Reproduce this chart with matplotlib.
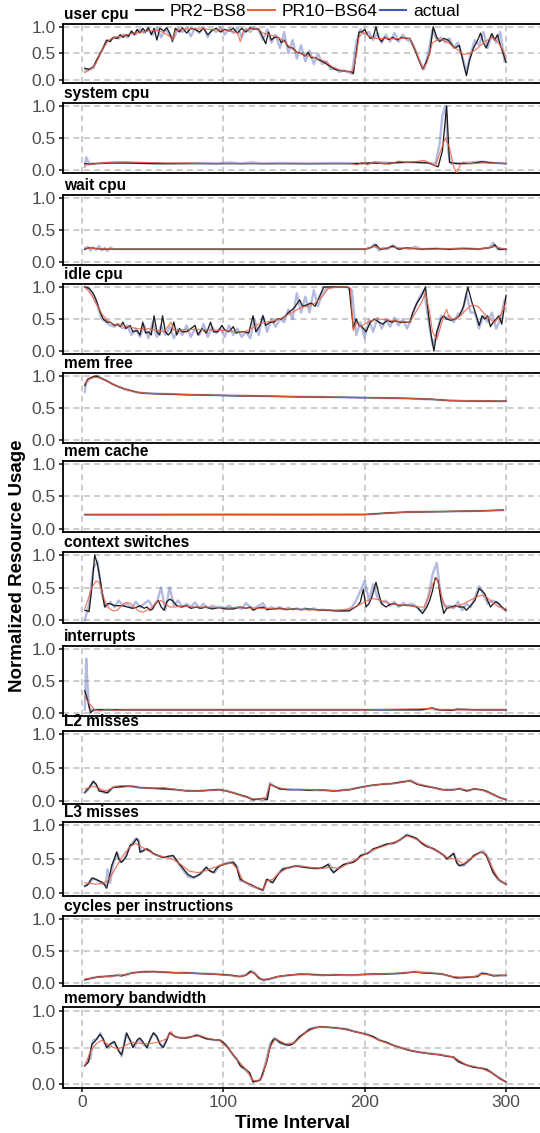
import matplotlib
matplotlib.use('Agg')
import matplotlib.pyplot as plt
from matplotlib.lines import Line2D
import numpy as np

plt.rcParams['font.family'] = ['Liberation Sans', 'DejaVu Sans']

# time index of the densely sampled "actual" series
t3 = list(range(2, 300, 3))

# ---------------- user cpu ----------------
user_cpu_actual = [.18, .2, .22, .4, .55, .72, .75, .8, .78, .85, .8, .9, .85, .95, .88, .97, .85, .98, .8, .95,
                   .85, .78, .97, .9, .99, .82, .97, .88, .99, .8, .95, .9, .99, .85, .97, .88, .99, .8, .97, .9,
                   .99, .93, .75, .95, .7, .85, .6, .9, .5, .75, .4, .65, .35, .55, .3, .5, .3, .35, .2, .22,
                   .15, .18, .15, .12, .7, .95, .85, .9, .75, .88, .7, .85, .72, .88, .72, .85, .75, .72, .55, .35,
                   .2, .5, .95, .75, .8, .7, .78, .6, .7, .45, .15, .5, .75, .65, .9, .6, .85, .7, .9, .35]
user_cpu_pr2 = [(2, .22), (5, .2), (8, .25), (10, .35), (13, .5), (15, .6), (17.5, .75), (20, .72), (22, .8), (25, .78),
                (27, .85), (29, .8), (31, .85), (33, .82), (35, .92), (37, .85), (39, .95), (41, .88), (43, .97), (45, .9),
                (47, .98), (49, .85), (51, .97), (53, .75), (55, .97), (58, .92), (60, .98), (62, .88), (64, .72), (66, .97),
                (69, .9), (71, .98), (74, .88), (77, .97), (80, .95), (83, .9), (86, .97), (89, .85), (92, .93), (95, .97),
                (98, .9), (101, .95), (104, .92), (107, .97), (110, .88), (113, .97), (116, .9), (119, .98), (122, .95),
                (125, .96), (128, .8), (130, .68), (132, .9), (134, .75), (136, .8), (139, .8), (141, .7), (143, .75),
                (146, .62), (149, .6), (152, .52), (155, .5), (158, .45), (160, .52), (162, .42), (165, .42), (168, .37),
                (170, .35), (173, .3), (176, .25), (179, .2), (182, .18), (185, .17), (188, .16), (190, .16), (192, .12),
                (194, .5), (196, .9), (198, .9), (200, .95), (202, .85), (204, .78), (206, .8), (208, 1.0), (210, .78),
                (212, .72), (214, .8), (217, .76), (220, .8), (223, .75), (226, .8), (229, .78), (232, .78), (235, .6),
                (238, .4), (241, .2), (243, .3), (246, .5), (248.5, 1.0), (251, .8), (253, .72), (256, .78), (259, .75),
                (262, .65), (264, .6), (267, .65), (270, .3), (272, .08), (274, .35), (277, .6), (280, .75), (282, .88),
                (284, .7), (286, .6), (288, .75), (290, .87), (292, .75), (294, .85), (296, .65), (298, .5), (300, .33)]
user_cpu_pr10 = [(2, .14), (6, .2), (10, .32), (14, .55), (18, .72), (22, .8), (27, .82), (32, .85), (37, .88), (42, .9),
                 (47, .92), (52, .93), (57, .9), (62, .82), (64, .75), (66, .92), (70, .95), (80, .96), (90, .95),
                 (100, .94), (105, .92), (110, .88), (112, .72), (114, .92), (120, .96), (125, .95), (128, .88),
                 (132, .85), (137, .82), (142, .75), (147, .62), (152, .52), (157, .47), (162, .44), (167, .4),
                 (172, .35), (177, .25), (182, .19), (187, .16), (191, .15), (193, .3), (196, .8), (199, .9), (203, .82),
                 (208, .78), (215, .78), (222, .77), (228, .79), (232, .78), (235, .62), (238, .42), (241, .2),
                 (244, .32), (248, .7), (252, .76), (256, .75), (260, .68), (265, .58), (270, .48), (275, .5),
                 (280, .6), (285, .72), (290, .8), (294, .72), (298, .55), (300, .45)]

# ---------------- system cpu ----------------
system_cpu_actual = [(2, .05), (3, .2), (5, .1), (8, .1), (15, .11), (25, .12), (40, .11), (60, .1), (80, .11), (95, .1),
                     (105, .12), (112, .1), (120, .12), (128, .1), (140, .11), (160, .1), (180, .11), (200, .1),
                     (210, .12), (220, .11), (230, .12), (240, .12), (250, .1), (253, .4), (255, .85), (257, 1.0),
                     (259, .3), (261, .1), (270, .11), (283, .13), (292, .11), (300, .1)]
system_cpu_pr2 = [(2, .1), (5, .09), (10, .1), (20, .11), (30, .11), (50, .1), (80, .1), (120, .1), (160, .1), (195, .1),
                  (205, .11), (215, .1), (225, .12), (235, .12), (245, .11), (252, .05), (255, .3), (258, 1.0),
                  (260, .12), (265, .1), (275, .1), (283, .13), (290, .11), (300, .1)]
system_cpu_pr10 = [(2, .08), (5, .08), (10, .1), (20, .12), (30, .125), (40, .12), (60, .11), (100, .1), (150, .1),
                   (190, .1), (195, .08), (198, .12), (202, .08), (207, .13), (212, .1), (218, .09), (224, .14),
                   (230, .12), (236, .13), (242, .15), (247, .1), (250, .06), (253, .25), (257, .5), (260, .35),
                   (263, .05), (265, -.05), (267, .05), (269, .12), (275, .1), (285, .11), (300, .1)]

# ---------------- wait cpu ----------------
wait_cpu_actual = [(2, .2), (4, .24), (6, .18), (8, .23), (10, .19), (12, .25), (14, .18), (16, .22), (18, .17), (20, .23),
                   (22, .2), (30, .2), (100, .2), (200, .2), (204, .22), (207, .28), (210, .18), (213, .22), (216, .2),
                   (220, .26), (224, .2), (228, .22), (232, .2), (236, .24), (240, .2), (250, .21), (260, .2),
                   (270, .22), (280, .2), (288, .22), (291, .3), (294, .2), (300, .2)]
wait_cpu_pr2 = [(2, .2), (5, .22), (10, .21), (15, .2), (20, .2), (100, .2), (200, .2), (205, .23), (208, .27), (211, .2),
                (215, .21), (220, .25), (224, .2), (230, .22), (240, .2), (250, .21), (260, .2), (270, .21), (280, .2),
                (290, .23), (292, .27), (295, .2), (300, .2)]
wait_cpu_pr10 = [(2, .22), (8, .21), (20, .2), (200, .2), (206, .24), (212, .21), (220, .23), (230, .21), (245, .2),
                 (260, .21), (280, .2), (292, .24), (300, .2)]

# ---------------- idle cpu ----------------
idle_cpu_actual = [1.0, .97, .85, .7, .5, .45, .4, .38, .42, .35, .4, .25, .35, .22, .4, .2, .45, .22, .4, .25,
                   .38, .2, .35, .25, .4, .22, .35, .25, .42, .22, .38, .28, .35, .22, .4, .25, .35, .22, .3, .2,
                   .5, .25, .55, .3, .5, .38, .5, .45, .65, .5, .9, .6, .85, .6, .95, .7, .9, .98, 1.0, 1.0,
                   1.0, 1.0, 1.0, .95, .25, .45, .2, .5, .3, .52, .35, .5, .38, .52, .4, .5, .35, .5, .7, .85,
                   .95, .5, .1, .25, .55, .5, .55, .45, .58, .6, .9, .6, .6, .35, .55, .45, .6, .35, .5, .8]
idle_cpu_pr2 = [(2, 1.0), (5, .98), (8, .9), (10, .8), (13, .6), (15, .5), (18, .45), (20, .45), (23, .4), (25, .42),
                (27, .38), (29, .45), (31, .35), (34, .4), (36, .3), (39, .32), (41, .25), (43, .45), (45, .28), (47, .3),
                (49, .25), (51, .55), (53, .3), (55, .25), (57, .55), (59, .3), (61, .25), (63, .3), (65, .45), (67, .25),
                (69, .35), (71, .3), (74, .3), (77, .35), (80, .4), (82, .25), (85, .35), (88, .28), (91, .45), (93, .3),
                (96, .3), (99, .4), (101, .33), (104, .3), (107, .38), (109, .28), (112, .3), (115, .3), (118, .28),
                (121, .55), (123, .3), (126, .4), (128, .55), (130, .4), (133, .45), (136, .45), (138, .5), (141, .5),
                (144, .55), (146, .6), (149, .65), (151, .7), (154, .8), (156, .7), (159, .72), (162, .75), (165, .7),
                (168, .85), (171, 1.0), (175, 1.0), (180, 1.0), (185, 1.0), (189, .99), (192, .35), (194, .5),
                (196, .4), (198, .38), (201, .3), (204, .45), (207, .5), (210, .45), (213, .42), (216, .48), (219, .45),
                (222, .47), (225, .45), (228, .45), (232, .45), (234, .6), (237, .75), (240, .85), (243, 1.0), (245, .6),
                (247, .25), (249, .0), (251, .3), (254, .5), (256, .55), (258, .5), (261, .48), (264, .5), (267, .55),
                (270, .7), (273, 1.0), (276, .75), (279, .55), (281, .4), (283, .55), (285, .5), (287, .55), (289, .38),
                (291, .45), (293, .5), (295, .55), (297, .42), (300, .87)]
idle_cpu_pr10 = [(2, 1.0), (6, .9), (10, .75), (14, .58), (18, .48), (22, .42), (27, .4), (32, .38), (37, .36), (42, .34),
                 (47, .35), (52, .33), (58, .3), (63, .45), (65, .32), (70, .33), (80, .34), (90, .33), (100, .32),
                 (110, .3), (115, .3), (120, .35), (125, .42), (130, .45), (135, .47), (140, .5), (145, .56), (150, .62),
                 (155, .68), (160, .7), (165, .75), (170, .85), (174, .97), (180, 1.0), (188, 1.0), (190, .98),
                 (192, .32), (194, .45), (197, .38), (200, .42), (204, .47), (210, .5), (218, .48), (226, .46),
                 (232, .45), (236, .6), (240, .75), (243, .9), (246, .6), (248, .3), (251, .18), (254, .4), (256, .55),
                 (258, .65), (260, .5), (264, .5), (268, .55), (272, .65), (276, .72), (280, .7), (284, .6), (288, .5),
                 (292, .45), (296, .55), (300, .75)]

# ---------------- mem free ----------------
mem_free_actual = [(2, .75), (3, .9), (5, .95), (8, .99), (11, 1.0), (14, .96), (18, .92), (22, .87), (27, .82), (32, .78),
                   (38, .75), (45, .73), (60, .72), (80, .705), (100, .7), (130, .685), (160, .675), (200, .66),
                   (230, .65), (250, .63), (258, .62), (270, .61), (300, .605)]
mem_free_pr2 = [(2, .85), (4, .95), (7, .98), (10, 1.0), (13, .97), (17, .93), (21, .88), (25, .84), (30, .8), (35, .77),
                (40, .74), (45, .73), (55, .72), (70, .71), (90, .7), (110, .69), (130, .685), (150, .675), (170, .67),
                (190, .665), (210, .66), (230, .65), (245, .64), (255, .625), (260, .615), (280, .61), (300, .605)]
mem_free_pr10 = [(2, .88), (5, .95), (9, .98), (13, .97), (18, .92), (23, .86), (30, .8), (38, .75), (45, .73), (60, .72),
                 (90, .7), (130, .685), (170, .67), (210, .66), (245, .64), (258, .62), (300, .605)]

# ---------------- mem cache ----------------
mem_cache_actual = [(2, .22), (40, .22), (80, .221), (120, .222), (160, .222), (200, .222), (210, .235), (220, .25),
                    (232, .262), (250, .267), (270, .273), (290, .283), (298, .29)]
mem_cache_pr2 = [(2, .222), (50, .222), (100, .223), (150, .222), (200, .223), (205, .23), (215, .245), (230, .26),
                 (245, .265), (260, .27), (280, .278), (298, .29)]
mem_cache_pr10 = [(2, .22), (60, .221), (120, .222), (200, .222), (208, .232), (222, .252), (236, .263), (255, .268),
                  (275, .276), (298, .29)]

# ---------------- context switches ----------------
ctx_actual = [.0, .25, .8, .9, .4, .2, .28, .2, .3, .22, .25, .18, .28, .2, .25, .3, .2, .28, .5, .15,
              .5, .22, .3, .2, .25, .2, .27, .18, .25, .18, .22, .2, .2, .18, .22, .18, .2, .17, .26, .2,
              .18, .22, .26, .16, .2, .17, .2, .16, .19, .16, .18, .16, .18, .15, .18, .15, .16, .15, .15, .14,
              .15, .14, .16, .2, .3, .45, .6, .3, .55, .35, .25, .3, .22, .28, .2, .26, .22, .25, .22, .15,
              .15, .35, .7, .88, .35, .2, .22, .18, .28, .15, .25, .2, .35, .52, .4, .25, .3, .28, .22, .15]
ctx_pr2 = [(2, .15), (5, .13), (7, .5), (9, 1.0), (11, .85), (13, .6), (16, .2), (18, .25), (20, .25), (23, .22),
           (26, .22), (29, .22), (32, .2), (36, .18), (39, .2), (41, .22), (44, .18), (46, .2), (48, .15), (50, .17),
           (52, .25), (54, .3), (56, .2), (58, .15), (60, .28), (62, .32), (64, .3), (67, .22), (70, .2), (74, .22),
           (77, .18), (81, .2), (84, .18), (88, .2), (92, .17), (97, .19), (102, .17), (107, .17), (112, .2),
           (116, .18), (119, .2), (121, .15), (124, .18), (128, .2), (131, .16), (135, .17), (140, .18), (145, .16),
           (150, .17), (155, .16), (160, .17), (165, .16), (170, .15), (175, .15), (180, .14), (185, .14), (189, .14),
           (192, .18), (195, .22), (197, .28), (199, .47), (201, .2), (203, .25), (205, .35), (208, .58), (210, .4),
           (212, .25), (215, .2), (218, .24), (221, .25), (225, .22), (229, .23), (233, .22), (237, .2), (239, .15),
           (241, .1), (244, .2), (246, .3), (248, .45), (250, .65), (252, .6), (254, .3), (256, .1), (258, .18),
           (261, .2), (264, .22), (267, .2), (270, .2), (272, .15), (275, .22), (278, .3), (281, .48), (283, .45),
           (285, .4), (287, .3), (289, .2), (291, .25), (293, .28), (295, .25), (297, .2), (300, .15)]
ctx_pr10 = [(2, .18), (4, .3), (7, .5), (10, .6), (12, .58), (14, .45), (16, .3), (19, .18), (22, .14), (25, .15),
            (28, .22), (31, .27), (34, .26), (37, .2), (40, .14), (43, .12), (46, .15), (50, .2), (53, .28), (56, .3),
            (59, .25), (62, .2), (66, .2), (72, .22), (78, .2), (85, .2), (95, .19), (110, .19), (125, .18),
            (140, .17), (160, .16), (180, .15), (190, .17), (196, .23), (202, .3), (206, .33), (212, .3), (218, .25),
            (225, .23), (232, .22), (238, .2), (242, .2), (245, .35), (248, .55), (251, .65), (253, .5), (256, .25),
            (259, .18), (264, .2), (270, .25), (276, .32), (282, .38), (286, .36), (290, .28), (295, .2), (300, .17)]

# ---------------- interrupts ----------------
intr_actual = [(2, .05), (3, .85), (4, .4), (5, .1), (7, .03), (10, .05), (20, .05), (50, .05), (100, .05), (150, .05),
               (200, .05), (240, .05), (247, .07), (250, .05), (300, .05)]
intr_pr2 = [(2, .35), (4, .2), (6, .0), (8, .05), (15, .05), (60, .05), (120, .05), (180, .05), (220, .05), (240, .05),
            (248, .08), (252, .05), (262, .04), (265, .06), (280, .05), (300, .05)]
intr_pr10 = [(2, .25), (5, .15), (9, .05), (13, .03), (18, .06), (24, .04), (30, .05), (40, .05), (60, .05), (100, .05),
             (200, .05), (248, .07), (255, .05), (300, .05)]

# ---------------- L2 misses ----------------
l2_actual = [(2, .12), (5, .18), (8, .3), (10, .24), (13, .15), (16, .12), (19, .14), (22, .21), (27, .21), (33, .22),
             (40, .2), (50, .19), (60, .18), (70, .16), (80, .15), (90, .16), (97, .17), (103, .15), (108, .12),
             (113, .08), (118, .05), (121, .02), (126, .03), (131, .02), (133, .27), (136, .22), (141, .18),
             (148, .17), (156, .17), (164, .16), (172, .16), (180, .15), (188, .17), (196, .2), (204, .23), (212, .25),
             (220, .26), (228, .29), (233, .31), (238, .25), (246, .21), (254, .17), (262, .17), (268, .19),
             (273, .15), (278, .18), (284, .16), (290, .1), (295, .05), (300, .02)]
l2_pr2 = [(2, .13), (5, .2), (8, .29), (10, .25), (12, .15), (15, .14), (18, .12), (20, .17), (22, .2), (26, .21),
          (31, .22), (36, .22), (41, .2), (50, .19), (60, .18), (67, .17), (74, .15), (83, .15), (90, .16), (97, .17),
          (102, .15), (107, .12), (112, .09), (117, .06), (121, .02), (125, .03), (128, .04), (131, .02), (133, .25),
          (136, .22), (140, .18), (146, .17), (154, .17), (160, .16), (166, .17), (172, .16), (178, .15), (184, .16),
          (190, .17), (196, .2), (201, .22), (207, .24), (213, .25), (219, .26), (225, .28), (232, .3), (237, .25),
          (243, .22), (249, .2), (255, .17), (260, .16), (264, .17), (267, .18), (272, .15), (277, .18), (282, .17),
          (286, .15), (291, .1), (296, .05), (300, .02)]
l2_pr10 = [(2, .18), (5, .2), (8, .22), (11, .2), (14, .17), (17, .15), (20, .18), (24, .22), (28, .23), (33, .22),
           (40, .2), (50, .19), (58, .2), (64, .18), (74, .15), (84, .15), (92, .16), (98, .17), (104, .14), (110, .1),
           (116, .06), (121, .03), (126, .03), (130, .05), (133, .25), (137, .21), (143, .18), (150, .17), (158, .17),
           (166, .17), (174, .16), (182, .15), (190, .17), (197, .2), (204, .23), (212, .25), (220, .26), (227, .28),
           (232, .3), (238, .25), (245, .22), (252, .18), (260, .16), (267, .18), (273, .16), (279, .18), (285, .15),
           (291, .1), (296, .05), (300, .02)]

# ---------------- L3 misses ----------------
l3_actual = [(2, .1), (5, .14), (8, .22), (11, .18), (14, .14), (17, .12), (18, .35), (20, .15), (22, .42), (25, .6),
             (27, .45), (30, .5), (32, .6), (35, .72), (38, .8), (40, .78), (42, .6), (45, .65), (48, .62), (51, .57),
             (55, .54), (59, .52), (64, .55), (68, .44), (72, .32), (75, .24), (79, .22), (84, .28), (88, .38),
             (91, .32), (94, .3), (97, .4), (102, .44), (107, .46), (110, .38), (112, .18), (116, .15), (120, .1),
             (124, .07), (128, .04), (131, .2), (134, .15), (138, .27), (142, .36), (148, .38), (154, .4), (160, .37),
             (167, .36), (172, .38), (175, .43), (178, .3), (182, .38), (188, .44), (194, .48), (198, .56), (204, .6),
             (210, .68), (216, .72), (222, .74), (226, .8), (230, .86), (235, .82), (240, .74), (246, .68), (252, .6),
             (256, .56), (259, .5), (263, .59), (266, .42), (270, .4), (275, .5), (280, .58), (284, .62), (288, .5),
             (291, .3), (294, .2), (297, .16), (300, .13)]
l3_pr2 = [(2, .1), (4, .12), (7, .22), (10, .2), (13, .17), (15, .15), (17.5, .07), (19, .2), (21, .4), (24.5, .6),
          (26, .5), (28, .45), (30, .5), (31.6, .55), (34, .7), (36, .72), (38.7, .8), (40, .75), (41, .6), (43, .62),
          (46, .65), (48, .62), (50.5, .58), (54, .55), (57.5, .52), (61, .54), (64.6, .55), (68, .45), (72, .35),
          (75, .27), (79, .23), (83, .27), (88, .38), (90, .33), (93, .3), (95, .36), (97.6, .4), (102, .43),
          (107, .45), (109, .4), (112, .2), (114, .18), (116.5, .15), (120, .12), (123.6, .08), (128, .04),
          (130.7, .2), (133, .18), (135, .15), (138, .25), (142, .35), (146, .37), (151, .4), (156, .38), (161, .37),
          (166, .36), (170, .37), (174, .42), (176, .35), (178, .3), (181, .35), (185, .42), (192, .45), (195, .5),
          (197, .55), (202, .58), (206, .65), (211, .68), (215.6, .72), (220, .73), (225, .78), (229.7, .85),
          (233, .83), (237, .8), (241, .72), (244, .68), (249, .65), (253, .6), (256, .55), (258, .5), (261, .55),
          (263, .58), (265, .45), (267, .4), (270, .42), (272, .45), (275, .5), (277, .55), (280, .58), (282, .6),
          (284, .59), (286, .55), (288, .45), (291, .3), (294, .22), (296, .18), (300, .13)]
l3_pr10 = [(2, .15), (6, .14), (10, .13), (14, .14), (18, .18), (22, .3), (26, .45), (30, .58), (34, .68), (38, .73),
           (42, .68), (46, .63), (52, .56), (58, .53), (64, .5), (70, .42), (76, .32), (82, .3), (88, .33), (94, .38),
           (100, .42), (106, .44), (110, .35), (114, .18), (120, .11), (128, .05), (131, .18), (135, .2), (140, .3),
           (145, .36), (152, .4), (160, .38), (170, .36), (176, .38), (182, .36), (188, .43), (195, .5), (205, .63),
           (215, .7), (225, .78), (230, .84), (238, .78), (245, .68), (253, .6), (258, .52), (264, .5), (270, .43),
           (276, .52), (282, .6), (286, .57), (290, .38), (295, .2), (300, .13)]

# ---------------- cycles per instructions ----------------
cpi_actual = [(2, .05), (7, .08), (13, .1), (20, .1), (26, .13), (31, .12), (36, .16), (45, .18), (55, .17), (65, .16),
              (75, .16), (85, .15), (95, .14), (105, .12), (111, .1), (116, .13), (120, .19), (123, .14), (126, .06),
              (129, .04), (134, .07), (140, .1), (150, .13), (160, .14), (170, .12), (180, .13), (190, .12), (200, .13),
              (212, .14), (224, .15), (236, .18), (244, .16), (252, .15), (258, .12), (263, .09), (270, .08), (278, .1),
              (283, .16), (288, .13), (294, .12), (300, .11)]
cpi_pr2 = [(2, .05), (6, .07), (10, .09), (15, .1), (20, .11), (25, .12), (28, .11), (32, .14), (36, .16), (42, .17),
           (50, .18), (58, .17), (66, .16), (72, .16), (80, .15), (90, .14), (100, .13), (106, .12), (112, .1),
           (116, .12), (119, .18), (122, .15), (125, .08), (128, .05), (132, .06), (138, .1), (145, .12), (155, .14),
           (165, .13), (175, .12), (185, .13), (195, .13), (205, .14), (215, .14), (225, .15), (235, .17), (240, .16),
           (248, .15), (255, .14), (260, .11), (265, .08), (272, .09), (280, .1), (283, .15), (287, .14), (291, .11),
           (296, .12), (300, .12)]
cpi_pr10 = [(2, .06), (8, .08), (15, .1), (22, .11), (28, .12), (34, .15), (40, .17), (50, .175), (60, .17), (70, .16),
            (80, .15), (92, .14), (104, .12), (112, .1), (117, .13), (120, .17), (123, .13), (127, .06), (131, .06),
            (138, .1), (148, .13), (160, .13), (172, .12), (185, .13), (197, .13), (210, .14), (222, .15), (235, .17),
            (245, .16), (255, .14), (262, .1), (268, .09), (278, .1), (283, .14), (288, .13), (294, .11), (300, .12)]

# ---------------- memory bandwidth ----------------
mbw_actual = [(2, .25), (4, .32), (6, .35), (8, .6), (11, .62), (13, .7), (16, .55), (19, .5), (22, .58), (25, .5),
              (28, .38), (31, .68), (34, .6), (37, .5), (40, .62), (43, .55), (46, .5), (49, .65), (51, .7), (54, .6),
              (57, .5), (60, .62), (62, .7), (66, .65), (72, .63), (78, .65), (82, .67), (88, .62), (94, .6), (98, .6),
              (102, .53), (106, .42), (110, .32), (113, .23), (118, .15), (121, .03), (124, .04), (127, .08), (130, .3),
              (133, .55), (136, .63), (140, .56), (145, .53), (150, .57), (155, .66), (160, .74), (166, .78),
              (172, .78), (180, .77), (188, .75), (195, .71), (202, .68), (208, .63), (215, .57), (222, .52),
              (230, .47), (238, .44), (246, .42), (254, .4), (262, .37), (266, .31), (272, .26), (280, .22), (287, .2),
              (292, .13), (297, .06), (300, .03)]
mbw_pr2 = [(2, .25), (4.5, .3), (7, .55), (9, .58), (12.7, .68), (15, .62), (17.5, .5), (20, .55), (23, .58), (26, .45),
           (28, .4), (30, .55), (31.6, .7), (34, .6), (36, .5), (39, .6), (41, .63), (43, .58), (46, .5), (48, .6),
           (50.5, .7), (53, .65), (55, .55), (57.5, .5), (60, .6), (62, .7), (65, .66), (67, .64), (70, .63), (74, .63),
           (78, .65), (81, .67), (84, .65), (88, .62), (92, .61), (97.6, .6), (101, .55), (104, .48), (107, .4),
           (110, .33), (112, .25), (116, .2), (118.8, .15), (121, .03), (123, .04), (125.9, .05), (128, .15),
           (130.7, .3), (133, .5), (135, .6), (137, .62), (140, .57), (144, .54), (147, .53), (150, .56), (154, .65),
           (158, .7), (161, .75), (165, .77), (168, .78), (172, .78), (178, .77), (183, .76), (187, .75), (192, .72),
           (197, .7), (201, .68), (206, .65), (210, .6), (215.6, .57), (220, .53), (225, .5), (230, .47), (234, .45),
           (240, .43), (243.9, .42), (248, .41), (253, .4), (258, .38), (263, .37), (265, .33), (267, .3), (272, .26),
           (277, .23), (282, .22), (286, .2), (290, .15), (296, .07), (300, .03)]
mbw_pr10 = [(2, .25), (6, .45), (10, .55), (14, .6), (18, .55), (22, .5), (26, .48), (30, .52), (35, .57), (40, .56),
            (45, .55), (50, .56), (55, .58), (60, .62), (63, .72), (65, .65), (70, .63), (78, .65), (84, .66), (90, .62),
            (97, .6), (104, .48), (110, .33), (116, .2), (121, .05), (125, .04), (128, .12), (133, .5), (137, .62),
            (144, .55), (150, .56), (158, .7), (165, .77), (172, .78), (183, .76), (192, .72), (201, .68), (210, .6),
            (220, .53), (230, .47), (243, .42), (253, .4), (263, .37), (272, .26), (282, .22), (290, .15), (300, .03)]

panel_names = ['user cpu', 'system cpu', 'wait cpu', 'idle cpu', 'mem free', 'mem cache',
               'context switches', 'interrupts', 'L2 misses', 'L3 misses',
               'cycles per instructions', 'memory bandwidth']
actual_series = [list(zip(t3, user_cpu_actual)), system_cpu_actual, wait_cpu_actual, list(zip(t3, idle_cpu_actual)),
                 mem_free_actual, mem_cache_actual, list(zip(t3, ctx_actual)), intr_actual, l2_actual, l3_actual,
                 cpi_actual, mbw_actual]
pr2_series = [user_cpu_pr2, system_cpu_pr2, wait_cpu_pr2, idle_cpu_pr2, mem_free_pr2, mem_cache_pr2,
              ctx_pr2, intr_pr2, l2_pr2, l3_pr2, cpi_pr2, mbw_pr2]
pr10_series = [user_cpu_pr10, system_cpu_pr10, wait_cpu_pr10, idle_cpu_pr10, mem_free_pr10, mem_cache_pr10,
               ctx_pr10, intr_pr10, l2_pr10, l3_pr10, cpi_pr10, mbw_pr10]

# layout: pixel rows of y=1.0 and y=0.0 for each panel
rows_px = [(26.7, 80), (106, 170), (198, 262), (287, 351), (376, 440), (464, 529),
           (555, 620), (649, 713), (734, 801), (825, 893), (919, 983), (1011, 1084)]

W, H = 540, 1133
fig = plt.figure(figsize=(W / 100, H / 100), dpi=100)
left_px, right_px = 62.5, 546
x0_px, x300_px = 82, 506
ppu = (x300_px - x0_px) / 300.0
xlim = (-(x0_px - left_px) / ppu, 300 + (right_px - x300_px) / ppu)

c_act = '#4457B8'
c_pr2 = '#1E1E1E'
c_pr10 = '#F2603F'
grid_kw = dict(color='#C4C4C4', lw=1.2, ls=(0, (3.6, 2.6)))


def xy(pairs):
    a = np.array(pairs, dtype=float)
    return a[:, 0], a[:, 1]


for i, name in enumerate(panel_names):
    y1, y0 = rows_px[i]
    s = y0 - y1
    top = y1 - 0.05 * s
    bot = y0 + 0.05 * s
    ax = fig.add_axes([left_px / W, 1 - bot / H, (right_px - left_px) / W, (bot - top) / H])
    ax.set_xlim(*xlim)
    ax.set_ylim(-0.05, 1.05)
    ax.set_yticks([0, 0.5, 1.0])
    ax.set_yticklabels(['0.0', '0.5', '1.0'])
    ax.set_xticks([0, 100, 200, 300])
    for v in [0, 100, 200, 300]:
        ax.axvline(v, zorder=0, **grid_kw)
    for v in [0, 0.5, 1.0]:
        ax.axhline(v, zorder=0, **grid_kw)

    x, y = xy(actual_series[i])
    ax.plot(x, y, color=c_act, lw=1.7, alpha=0.4, zorder=2)
    x, y = xy(pr2_series[i])
    ax.plot(x, y, color=c_pr2, lw=0.95, zorder=3)
    x, y = xy(pr10_series[i])
    ax.plot(x, y, color=c_pr10, lw=0.85, alpha=0.85, zorder=4)

    for sp in ax.spines.values():
        sp.set_linewidth(1.3)
        sp.set_color('black')
    ax.tick_params(axis='y', length=3, width=1.3, color='#333333', labelsize=12.5,
                   labelcolor='#4D4D4D', pad=2)
    if i < len(panel_names) - 1:
        ax.tick_params(axis='x', length=0, labelbottom=False)
    else:
        ax.tick_params(axis='x', length=3, width=1.3, color='#333333', labelsize=12.5,
                       labelcolor='#4D4D4D', pad=2)
    ax.annotate(name, (0, 1), xycoords='axes fraction', xytext=(1, 1.2), textcoords='offset points',
                ha='left', va='bottom', fontsize=11.2, fontweight='bold', color='black')

handles = [Line2D([], [], color=c_pr2, lw=1.5),
           Line2D([], [], color=c_pr10, lw=1.5),
           Line2D([], [], color=c_act, lw=1.5)]
fig.legend(handles, ['PR2\u2212BS8', 'PR10\u2212BS64', 'actual'], loc='center',
           bbox_to_anchor=(298 / W, 1 - 11 / H), ncol=3, frameon=False, fontsize=12.5,
           handlelength=1.55, handletextpad=0.4, columnspacing=0.1, borderpad=0, borderaxespad=0)

fig.text(293 / W, 1 - 1123 / H, 'Time Interval', ha='center', va='center', fontsize=13.5, fontweight='bold')
fig.text(18 / W, 1 - 566 / H, 'Normalized Resource Usage', ha='center', va='center', rotation=90,
         fontsize=13.5, fontweight='bold')

fig.savefig('out.png', dpi=100)
